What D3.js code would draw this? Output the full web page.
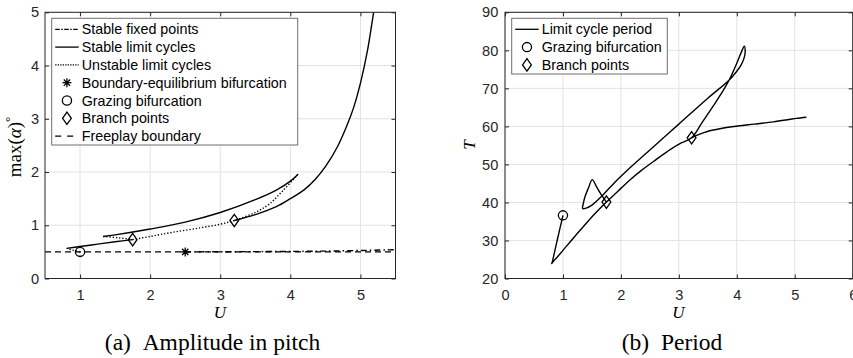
<!DOCTYPE html>
<html>
<head>
<meta charset="utf-8">
<script src="https://cdn.jsdelivr.net/npm/d3@7"></script>
<style>
  body { margin: 0; background: #fff; }
  svg { display: block; }
  .tick text { font-family: "Liberation Sans", Arial, sans-serif; font-size: 14.6px; fill: #262626; }
</style>
</head>
<body>
<svg id="fig" width="853" height="358"></svg>
<script>
// ---------- panel (a): pitch amplitude max(alpha) vs U ----------
const ampXTicks = [1, 2, 3, 4, 5];
const ampYTicks = [0, 1, 2, 3, 4, 5];
const freeplayBoundary = 0.5;
const fixedPoints = [[2.5, 0.5], [3.5, 0.505], [4.5, 0.515], [5.5, 0.54]];
const ampStableA = [[0.81, 0.565], [1.0, 0.6], [1.25, 0.645], [1.5, 0.69], [1.75, 0.73]];
const ampStableB = [[1.33, 0.79], [1.5, 0.82], [2.0, 0.93], [2.5, 1.06], [3.0, 1.24], [3.5, 1.48], [3.8, 1.66], [4.0, 1.83], [4.11, 1.96]];
const ampStableC = [[3.2, 1.09], [3.5, 1.2], [3.8, 1.35], [4.0, 1.5], [4.2, 1.67], [4.36, 1.87], [4.5, 2.1], [4.67, 2.47], [4.8, 2.85], [4.9, 3.2], [5.0, 3.67], [5.1, 4.28], [5.17, 4.85], [5.2, 5.1]];
const ampUnstableA = [[1.0, 0.5], [0.9, 0.53], [0.81, 0.565]];
const ampUnstableB = [[1.33, 0.79], [1.55, 0.765], [1.75, 0.73]];
const ampUnstableC = [[1.75, 0.73], [2.0, 0.79], [2.33, 0.87], [2.71, 0.95], [3.0, 1.02], [3.2, 1.09], [3.5, 1.24], [3.7, 1.4], [3.9, 1.66], [4.11, 1.96]];
const ampBoundaryEq = [[2.5, 0.5]];
const ampGrazing = [[1.0, 0.5]];
const ampBranch = [[1.75, 0.73], [3.2, 1.09]];
const ampLegendLabels = ["Stable fixed points", "Stable limit cycles", "Unstable limit cycles",
  "Boundary-equilibrium bifurcation", "Grazing bifurcation", "Branch points", "Freeplay boundary"];

// ---------- panel (b): limit cycle period T vs U ----------
const perXTicks = [0, 1, 2, 3, 4, 5, 6];
const perYTicks = [20, 30, 40, 50, 60, 70, 80, 90];
const perFromGrazing = [[1.0, 36.6], [0.95, 33.3], [0.9, 30.0], [0.85, 26.6], [0.815, 24.3], [0.805, 23.9]];
const perLower = [[0.84, 24.6], [0.9, 25.6], [1.0, 27.4], [1.2, 31.0], [1.35, 33.6], [1.55, 37.0], [1.75, 40.1], [2.0, 43.7], [2.155, 45.9], [2.36, 48.5], [2.6, 51.2], [2.85, 53.9], [3.05, 55.7], [3.22, 57.0]];
const perRising = [[3.4, 61.0], [3.6, 65.5], [3.8, 70.3], [3.9, 73.2], [4.0, 76.6], [4.08, 79.6], [4.13, 81.1]];
const perReturn = [[4.145, 79.8], [4.13, 78.2], [4.08, 76.3], [4.0, 74.5], [3.87, 72.2], [3.5, 67.4], [3.0, 60.6], [2.5, 53.8], [2.07, 47.9], [1.9, 45.4], [1.667, 41.6], [1.5, 39.3], [1.4, 38.5], [1.34, 38.4]];
const perHook = [[1.35, 39.6], [1.38, 41.5], [1.44, 43.8], [1.505, 46.0], [1.58, 44.1], [1.667, 41.9], [1.75, 40.1]];
const perUpper = [[3.22, 57.0], [3.35, 57.9], [3.48, 58.6], [3.75, 59.5], [4.02, 60.1], [4.3, 60.6], [4.63, 61.2], [4.9, 61.8], [5.03, 62.1], [5.2, 62.4]];
const perGrazing = [[1.0, 36.6]];
const perBranch = [[1.75, 40.1], [3.22, 57.0]];
const perLegendLabels = ["Limit cycle period", "Grazing bifurcation", "Branch points"];

const INK = "#000";
const AXIS = "#262626";
const GRID = "#e2e2e2";
const svg = d3.select("#fig");

function panel(opts) {
  const x = d3.scaleLinear().domain(opts.xDomain).range(opts.xRange);
  const y = d3.scaleLinear().domain(opts.yDomain).range(opts.yRange);
  const [x0, x1] = opts.xRange, [y0, y1] = opts.yRange; // y0 bottom, y1 top
  const g = svg.append("g");

  // grid
  const grid = g.append("g");
  grid.selectAll("line.gx").data(opts.xTicks).join("line")
    .attr("x1", d => x(d)).attr("x2", d => x(d)).attr("y1", y1).attr("y2", y0)
    .attr("stroke", GRID).attr("stroke-width", 1);
  grid.selectAll("line.gy").data(opts.yTicks).join("line")
    .attr("y1", d => y(d)).attr("y2", d => y(d)).attr("x1", x0).attr("x2", x1)
    .attr("stroke", GRID).attr("stroke-width", 1);

  const clipId = opts.id + "-clip";
  svg.append("clipPath").attr("id", clipId).append("rect")
    .attr("x", x0).attr("y", y1).attr("width", x1 - x0).attr("height", y0 - y1);
  const plot = g.append("g").attr("clip-path", `url(#${clipId})`);
  const marks = g.append("g");

  // ticks and labels, inside ticks on all four sides
  const axes = g.append("g");
  const bottom = axes.append("g").attr("transform", `translate(0,${y0})`)
    .call(d3.axisBottom(x).tickValues(opts.xTicks).tickSizeInner(-4).tickSizeOuter(0).tickPadding(11).tickFormat(d3.format("d")));
  const top = axes.append("g").attr("transform", `translate(0,${y1})`)
    .call(d3.axisTop(x).tickValues(opts.xTicks).tickSizeInner(-4).tickSizeOuter(0).tickFormat(""));
  const left = axes.append("g").attr("transform", `translate(${x0},0)`)
    .call(d3.axisLeft(y).tickValues(opts.yTicks).tickSizeInner(-4).tickSizeOuter(0).tickPadding(opts.yPad).tickFormat(d3.format("d")));
  const right = axes.append("g").attr("transform", `translate(${x1},0)`)
    .call(d3.axisRight(y).tickValues(opts.yTicks).tickSizeInner(-4).tickSizeOuter(0).tickFormat(""));
  [bottom, top, left, right].forEach(a => {
    a.select(".domain").remove();
    a.selectAll(".tick line").attr("stroke", AXIS);
    a.attr("font-family", null).attr("font-size", null);
  });
  axes.append("rect").attr("x", x0).attr("y", y1).attr("width", x1 - x0).attr("height", y0 - y1)
    .attr("fill", "none").attr("stroke", AXIS).attr("stroke-width", 1);

  return { x, y, g, plot, marks, axes };
}

const curve = d3.curveCatmullRom.alpha(0.5);
function drawLine(p, data, dash, width) {
  const line = d3.line().x(d => p.x(d[0])).y(d => p.y(d[1])).curve(curve);
  p.plot.append("path").datum(data).attr("d", line)
    .attr("fill", "none").attr("stroke", INK).attr("stroke-width", width || 1.4)
    .attr("stroke-dasharray", dash || null).attr("stroke-linejoin", "round");
}

function circleMark(sel, cx, cy) {
  sel.append("circle").attr("cx", cx).attr("cy", cy).attr("r", 4.6)
    .attr("fill", "none").attr("stroke", INK).attr("stroke-width", 1.3);
}
function diamondMark(sel, cx, cy) {
  sel.append("path").attr("d", `M${cx},${cy - 6.2}L${cx + 4.4},${cy}L${cx},${cy + 6.2}L${cx - 4.4},${cy}Z`)
    .attr("fill", "none").attr("stroke", INK).attr("stroke-width", 1.3);
}
function starMark(sel, cx, cy) {
  const r = 4.5, k = r * Math.SQRT1_2;
  const d = `M${cx - r},${cy}L${cx + r},${cy}M${cx},${cy - r}L${cx},${cy + r}` +
    `M${cx - k},${cy - k}L${cx + k},${cy + k}M${cx - k},${cy + k}L${cx + k},${cy - k}`;
  sel.append("path").attr("d", d).attr("stroke", INK).attr("stroke-width", 1.3).attr("fill", "none");
}

const DASH = "6,4";
const DASHDOT = "6,3,1.5,3";
const DOT = "1.3,1.9";

// ---------- panel (a) ----------
const pa = panel({
  id: "amp", xDomain: [0.5, 5.5], yDomain: [0, 5],
  xRange: [45, 395.5], yRange: [278.5, 12.3],
  xTicks: ampXTicks, yTicks: ampYTicks, yPad: 6
});
drawLine(pa, [[0.5, freeplayBoundary], [5.5, freeplayBoundary]], DASH, 1.4);
drawLine(pa, fixedPoints, DASHDOT, 1.4);
drawLine(pa, ampStableA);
drawLine(pa, ampStableB);
drawLine(pa, ampStableC);
drawLine(pa, ampUnstableA, DOT);
drawLine(pa, ampUnstableB, DOT);
drawLine(pa, ampUnstableC, DOT);
ampBoundaryEq.forEach(d => starMark(pa.marks, pa.x(d[0]), pa.y(d[1])));
ampGrazing.forEach(d => circleMark(pa.marks, pa.x(d[0]), pa.y(d[1])));
ampBranch.forEach(d => diamondMark(pa.marks, pa.x(d[0]), pa.y(d[1])));

// ---------- panel (b) ----------
const pb = panel({
  id: "per", xDomain: [0, 6], yDomain: [20, 90],
  xRange: [505, 852.7], yRange: [278.5, 12.3],
  xTicks: perXTicks, yTicks: perYTicks, yPad: 6.7
});
drawLine(pb, perFromGrazing.concat(perLower, perRising, perReturn, perHook));
drawLine(pb, perUpper);
perGrazing.forEach(d => circleMark(pb.marks, pb.x(d[0]), pb.y(d[1])));
perBranch.forEach(d => diamondMark(pb.marks, pb.x(d[0]), pb.y(d[1])));

// ---------- legends ----------
function legend(box, labels, kinds) {
  const g = svg.append("g");
  g.append("rect").attr("x", box.x).attr("y", box.y).attr("width", box.w).attr("height", box.h)
    .attr("fill", "#fff").attr("stroke", "#6e6e6e").attr("stroke-width", 1);
  labels.forEach((lab, i) => {
    const cy = box.y + 11 + i * 17.8;
    const k = kinds[i];
    const xa = box.x + 3.5, xb = box.x + 27, xm = (xa + xb) / 2;
    if (k.line) {
      g.append("line").attr("x1", xa).attr("x2", xb).attr("y1", cy).attr("y2", cy)
        .attr("stroke", INK).attr("stroke-width", 1.3).attr("stroke-dasharray", k.dash || null);
    }
    if (k.mark === "star") starMark(g, xm, cy);
    if (k.mark === "circle") circleMark(g, xm, cy);
    if (k.mark === "diamond") diamondMark(g, xm, cy);
    g.append("text").attr("x", box.x + 30).attr("y", cy).attr("dy", "0.36em")
      .attr("font-family", "'Liberation Sans', Arial, sans-serif").attr("font-size", 14.3)
      .attr("fill", "#000").text(lab);
  });
}
legend({ x: 51.7, y: 18.3, w: 246, h: 126.7 }, ampLegendLabels, [
  { line: true, dash: "4.5,1.5,1.5,1.5" }, { line: true }, { line: true, dash: "1.3,1.2" },
  { mark: "star" }, { mark: "circle" }, { mark: "diamond" }, { line: true, dash: "6,6" }
]);
legend({ x: 511.7, y: 18.3, w: 155.6, h: 55.7 }, perLegendLabels, [
  { line: true }, { mark: "circle" }, { mark: "diamond" }
]);

// ---------- axis labels and captions ----------
const SERIF = "'Liberation Serif', 'Times New Roman', serif";
svg.append("text").attr("x", 220).attr("y", 318).attr("text-anchor", "middle")
  .attr("font-family", SERIF).attr("font-style", "italic").attr("font-size", 17).text("U");
svg.append("text").attr("x", 678.5).attr("y", 318).attr("text-anchor", "middle")
  .attr("font-family", SERIF).attr("font-style", "italic").attr("font-size", 17).text("U");

const yl = svg.append("text").attr("transform", "translate(21,147) rotate(-90)")
  .attr("text-anchor", "middle").attr("font-family", SERIF).attr("font-size", 19);
yl.append("tspan").text("max(");
yl.append("tspan").attr("font-style", "italic").text("α");
yl.append("tspan").text(")");
yl.append("tspan").attr("dy", -7).attr("font-size", 13).text("°");

svg.append("text").attr("transform", "translate(475,145) rotate(-90)").attr("text-anchor", "middle")
  .attr("font-family", SERIF).attr("font-style", "italic").attr("font-size", 17).text("T");

svg.append("text").attr("x", 212.5).attr("y", 350).attr("text-anchor", "middle")
  .attr("font-family", SERIF).attr("font-size", 23.5).text("(a)\u2002Amplitude in pitch");
svg.append("text").attr("x", 672).attr("y", 350).attr("text-anchor", "middle")
  .attr("font-family", SERIF).attr("font-size", 23.5).text("(b)\u2002Period");
</script>
</body>
</html>
